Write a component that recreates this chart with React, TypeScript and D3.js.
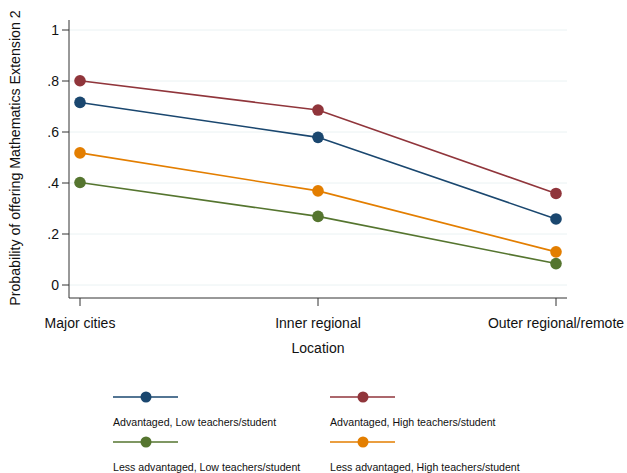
import React from "react";
import * as d3 from "d3";

const categories = ["Major cities", "Inner regional", "Outer regional/remote"];
const seriesNames = [
  "Advantaged, Low teachers/student",
  "Advantaged, High teachers/student",
  "Less advantaged, Low teachers/student",
  "Less advantaged, High teachers/student",
];
const advLow = [0.716, 0.579, 0.259];
const advHigh = [0.801, 0.686, 0.359];
const lessLow = [0.402, 0.269, 0.084];
const lessHigh = [0.518, 0.369, 0.13];
const yTicks = [0, 0.2, 0.4, 0.6, 0.8, 1];
const yTickLabels = ["0", ".2", ".4", ".6", ".8", "1"];
const colors = ["#1a476f", "#90353b", "#55752f", "#e37e00"];

const W = 627, H = 473;
const font = "'Liberation Sans', Arial, sans-serif";

export default function App() {
  const series = [advLow, advHigh, lessLow, lessHigh];
  const x = d3.scalePoint<string>().domain(categories).range([80, 556]);
  const y = d3.scaleLinear().domain([0, 1]).range([285, 30]);
  const line = d3.line<number>().x((_, i) => x(categories[i])!).y((d) => y(d));
  const axisLeft = 69, axisBottom = 298, plotRight = 567;
  const legendPos = [
    { x: 113, y: 397 },
    { x: 330, y: 397 },
    { x: 113, y: 442 },
    { x: 330, y: 442 },
  ];
  return (
    <svg width={W} height={H} style={{ position: "absolute", left: 0, top: 0, background: "#fff" }} fontFamily={font}>
      <rect width={W} height={H} fill="#fff" />
      {yTicks.map((t) => (
        <line key={"g" + t} x1={axisLeft} x2={plotRight} y1={y(t)} y2={y(t)} stroke="#eaf2f3" strokeWidth={1} />
      ))}
      <line x1={axisLeft} x2={axisLeft} y1={20} y2={axisBottom} stroke="#333" strokeWidth={1} />
      <line x1={axisLeft} x2={plotRight} y1={axisBottom} y2={axisBottom} stroke="#333" strokeWidth={1} />
      {yTicks.map((t, i) => (
        <g key={"t" + t}>
          <line x1={axisLeft - 7} x2={axisLeft} y1={y(t)} y2={y(t)} stroke="#333" />
          <text x={axisLeft - 10} y={y(t)} dy="0.35em" textAnchor="end" fontSize={14} fill="#111">
            {yTickLabels[i]}
          </text>
        </g>
      ))}
      {categories.map((c) => (
        <g key={c}>
          <line x1={x(c)} x2={x(c)} y1={axisBottom} y2={axisBottom + 8} stroke="#333" />
          <text x={x(c)} y={323} dy="0.35em" textAnchor="middle" fontSize={14} fill="#111">
            {c}
          </text>
        </g>
      ))}
      <text x={318} y={348} dy="0.35em" textAnchor="middle" fontSize={14} fill="#111">
        Location
      </text>
      <text
        transform={`translate(15,${158}) rotate(-90)`}
        textAnchor="middle"
        dy="0.35em"
        fontSize={14.2}
        fill="#111"
      >
        Probability of offering Mathematics Extension 2
      </text>
      {series.map((s, k) => (
        <g key={"s" + k}>
          <path d={line(s)!} fill="none" stroke={colors[k]} strokeWidth={1.6} />
          {s.map((v, i) => (
            <circle key={i} cx={x(categories[i])} cy={y(v)} r={5.8} fill={colors[k]} />
          ))}
        </g>
      ))}
      {seriesNames.map((n, k) => {
        const p = legendPos[k];
        return (
          <g key={"l" + k}>
            <line x1={p.x} x2={p.x + 65} y1={p.y} y2={p.y} stroke={colors[k]} strokeWidth={1.6} />
            <circle cx={p.x + 33} cy={p.y} r={5.5} fill={colors[k]} />
            <text x={p.x} y={p.y + 25} dy="0.35em" fontSize={10.6} fill="#111">
              {n}
            </text>
          </g>
        );
      })}
    </svg>
  );
}
